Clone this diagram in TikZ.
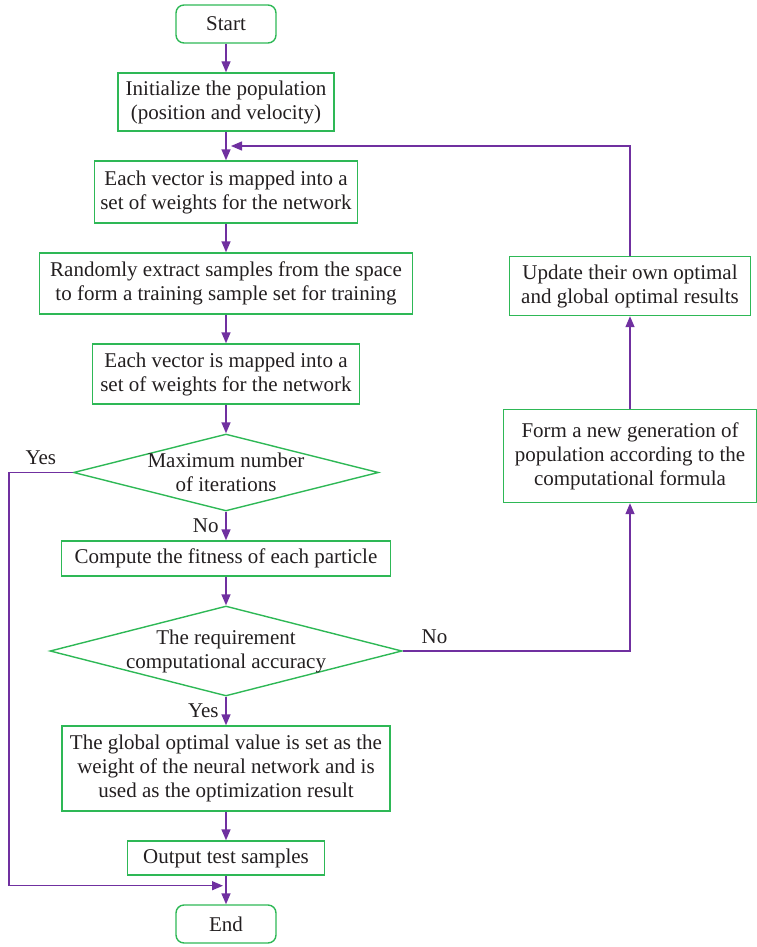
\documentclass[tikz,border=0pt]{standalone}
\usepackage{fontspec}
\setmainfont{Liberation Serif}
\usepackage{xcolor}
\usepackage{tikz}
\usetikzlibrary{arrows.meta,positioning,shapes.geometric,calc}
\definecolor{boxgreen}{RGB}{46,184,86}
\definecolor{flowpurple}{RGB}{112,48,160}
\definecolor{inktext}{RGB}{35,31,32}

\begin{document}
\begin{tikzpicture}[
    x=0.5pt, y=-0.5pt,
    node distance=14.3pt,
    font=\fontsize{10.5}{12}\selectfont,
    text=inktext,
    terminal/.style={
        draw=boxgreen,
        line width=0.7pt,
        rounded corners=4pt,
        minimum width=50pt,
        minimum height=19pt
    },
    block/.style={
        draw=boxgreen,
        line width=0.7pt,
        align=center,
        inner sep=2pt
    },
    decision/.style={
        draw=boxgreen,
        line width=0.7pt,
        diamond,
        aspect=4,
        align=center,
        inner sep=-3pt
    },
    line/.style={-{Triangle[length=5.5pt,width=4.5pt]}, draw=flowpurple, line width=0.7pt}
]
\useasboundingbox (0,0) rectangle (756,947);

% --- Main column ---
\node[terminal] (start) at (226,24) {Start};
\node[block, below=of start, minimum width=108pt, minimum height=29pt] (init)
    {Initialize the population\\(position and velocity)};
\node[block, below=of init, minimum width=131.5pt, minimum height=31pt] (map1)
    {Each vector is mapped into a\\set of weights for the network};
\node[block, below=of map1, minimum width=186.5pt, minimum height=30.5pt] (sample)
    {Randomly extract samples from the space\\to form a training sample set for training};
\node[block, below=of sample, minimum width=133.5pt, minimum height=30pt] (map2)
    {Each vector is mapped into a\\set of weights for the network};

% --- Decisions ---
\node[decision, below=of map2, minimum width=152.5pt, minimum height=38.5pt] (maxit)
    {Maximum number\\of iterations};
\node[block, below=of maxit, minimum width=164.5pt, minimum height=17.5pt] (fitness)
    {Compute the fitness of each particle};
\node[decision, below=of fitness, minimum width=176pt, minimum height=45pt] (accur)
    {The requirement\\computational accuracy};

% --- Outputs ---
\node[block, below=of accur, minimum width=164pt, minimum height=42.5pt] (result)
    {The global optimal value is set as the\\weight of the neural network and is\\used as the optimization result};
\node[block, below=of result, minimum width=98.5pt, minimum height=17pt] (output)
    {Output test samples};
\node[terminal, below=of output] (end) {End};

% --- Right column ---
\node[block, minimum width=126.5pt, minimum height=46.5pt] (newgen) at (630,456)
    {Form a new generation of\\population according to the\\computational formula};
\node[block, above=46.3pt of newgen, minimum width=120.5pt, minimum height=29.5pt] (update)
    {Update their own optimal\\and global optimal results};

\coordinate (merge) at ($(init.south)!0.5!(map1.north)$);
\coordinate (join) at ($(output.south)!0.35!(end.north)+(-3,0)$);

% --- Connections ---
\draw[line] (start) -- (init);
\draw[line] (init) -- (map1);
\draw[line] (map1) -- (sample);
\draw[line] (sample) -- (map2);
\draw[line] (map2) -- (maxit);

\draw[line] (maxit) -- node[left]{No} (fitness);
\draw[line] (maxit.west) -- node[above]{Yes} ++(-64,0) |- (join);

\draw[line] (fitness) -- (accur);
\draw[line] (accur) -- node[left]{Yes} (result);
\draw[line] (accur.east) -| node[pos=0.07, above]{No} (newgen.south);

\draw[line] (newgen) -- (update);
\draw[line, shorten >=2.5pt] (update.north) |- (merge);

\draw[line] (result) -- (output);
\draw[line] (output) -- (end);

\end{tikzpicture}
\end{document}
